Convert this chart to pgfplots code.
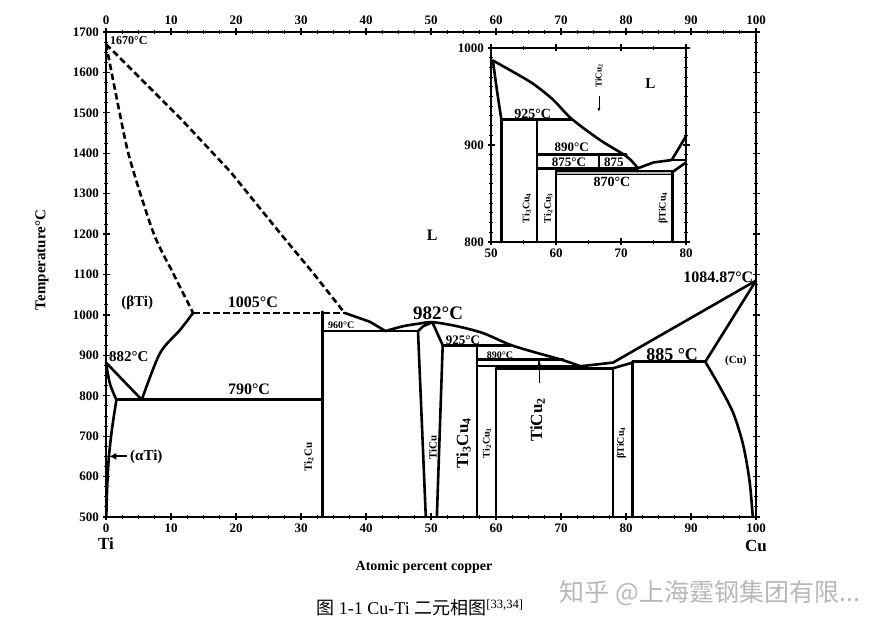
\documentclass[border=0pt]{standalone}
\usepackage{fontspec}
\setmainfont{Liberation Serif}
\newfontfamily\cjk{Noto Sans CJK SC}
\usepackage{pgfplots}
\pgfplotsset{compat=1.18}
\usetikzlibrary{arrows.meta}
\newcommand\fs[1]{\fontsize{#1}{#1}\selectfont\bfseries}
\begin{document}
\begin{tikzpicture}
\useasboundingbox (0pt,0pt) rectangle (889pt,628pt);
\pgfplotsset{
  pd/.style={black, line width=2.6pt, line join=round, line cap=round},
  pdd/.style={black, line width=2.6pt, dash pattern=on 6.5pt off 3.5pt},
  common/.style={scale only axis, anchor=south west,
    tick align=center, major tick length=7pt, minor tick length=4pt,
    every tick/.style={black, line width=1.2pt},
    minor tick style={line width=0.9pt},
    axis line style={line width=2pt},
    ticklabel style={font=\fs{13}},
    /pgf/number format/assume math mode=true,
    /pgf/number format/set thousands separator={},
    clip=false},
}
% ---------- top tick labels of main axis ----------
\begin{axis}[common, at={(106pt,111pt)}, width=650pt, height=485pt,
  xmin=0, xmax=100, ymin=500, ymax=1700,
  axis x line*=top, axis y line=none,
  xtick={0,10,...,100}, minor x tick num=3]
\addplot[draw=none] coordinates {(0,500)};
\end{axis}
% ---------- main axis ----------
\begin{axis}[common, at={(106pt,111pt)}, width=650pt, height=485pt,
  xmin=0, xmax=100, ymin=500, ymax=1700,
  xtick={0,10,...,100}, ytick={500,600,...,1700},
  minor x tick num=3, minor y tick num=3]
% dashed liquidus and solidus on the Ti side
\addplot[pdd] coordinates {(0,1670)(5,1590)(11.4,1487)(19.1,1355)(26.8,1202)(31.9,1103)(36.7,1005)};
\addplot[pdd, smooth] coordinates {(0,1670)(2.1,1500)(3.7,1384)(7.3,1203)(10.3,1104)(13.4,1005)};
\addplot[pdd] coordinates {(13.4,1005)(36.7,1005)};
% liquidus
\addplot[pd] coordinates {(36.7,1005)(40.6,983)(43,960)};
\addplot[pd, smooth] coordinates {(43,960)(45.7,972)(48,978)(50.2,982)(54,972)(58,955)(62.2,926)(66.3,906)(70.3,888)(73,873)};
\addplot[pd] coordinates {(73,873)(78,882)(100,1084.87)};
% Cu side
\addplot[pd] coordinates {(92.2,884)(100,1084.87)};
\addplot[pd, smooth] coordinates {(92.2,884)(94.5,820)(96.5,757)(98,680)(99,590)(99.5,500)};
\addplot[pd] coordinates {(81,884)(92.2,884)};
\addplot[pd] coordinates {(78,868)(81,882)};
\addplot[pd] coordinates {(78,500)(78,868)};
\addplot[pd] coordinates {(81,500)(81,884)};
% intermediate phases
\addplot[pd] coordinates {(60,868)(78,868)};
\addplot[pd] coordinates {(57.1,874)(73,874)};
\addplot[pd] coordinates {(60,500)(60,868)};
\addplot[pd] coordinates {(57.1,890)(70.3,890)};
\addplot[pd] coordinates {(66.6,890)(66.6,874)};
\addplot[pd] coordinates {(57.1,500)(57.1,925)};
\addplot[pd] coordinates {(51.8,925)(62.2,925)};
\addplot[pd] coordinates {(50.2,982)(51.8,925)(50.9,500)};
\addplot[pd] coordinates {(49.2,500)(48,960)(48.8,972)(50.2,982)};
\addplot[pd] coordinates {(33.3,960)(48,960)};
\addplot[pd] coordinates {(33.3,500)(33.3,1008)};
\addplot[pd] coordinates {(1.6,790)(33.3,790)};
% Ti side
\addplot[pd, smooth] coordinates {(5.5,790)(8.3,905)(11.4,963)(13.4,1005)};
\addplot[pd] coordinates {(0,882)(5.5,790)};
\addplot[pd, smooth] coordinates {(0,882)(0.6,830)(1.6,790)};
\addplot[pd, smooth] coordinates {(1.6,790)(0.9,715)(0.4,640)(0.15,560)(0.05,500)};
% arrows
\draw[-{Latex[length=7pt,width=7pt]}, line width=2.2pt] (axis cs:3.2,650) -- (axis cs:0.5,650);
\draw[-{Latex[length=5pt,width=4pt]}, line width=1pt] (axis cs:66.7,832) -- (axis cs:66.7,885);
% labels
\node[font=\fs{12}, anchor=west, inner sep=0pt] at (axis cs:0.6,1678) {1670°C};
\node[font=\fs{15}] at (axis cs:4.8,1030) {(βTi)};
\node[font=\fs{16}] at (axis cs:22.6,1032) {1005°C};
\node[font=\fs{15}] at (axis cs:3.5,896) {882°C};
\node[font=\fs{16}] at (axis cs:22,817) {790°C};
\node[font=\fs{15}] at (axis cs:6.2,648) {(αTi)};
\node[font=\fs{11}, rotate=90] at (axis cs:31.2,648) {Ti\textsubscript{2}Cu};
\node[font=\fs{10}] at (axis cs:36.2,975) {960°C};
\node[font=\fs{19}] at (axis cs:51.1,1005) {982°C};
\node[font=\fs{11}, rotate=90] at (axis cs:50.3,673) {TiCu};
\node[font=\fs{13}] at (axis cs:54.9,938) {925°C};
\node[font=\fs{10}] at (axis cs:60.6,901) {890°C};
\node[font=\fs{17}, rotate=90] at (axis cs:55,683) {Ti\textsubscript{3}Cu\textsubscript{4}};
\node[font=\fs{10}, rotate=90] at (axis cs:58.6,683) {Ti\textsubscript{2}Cu\textsubscript{3}};
\node[font=\fs{17}, rotate=90] at (axis cs:66.4,740) {TiCu\textsubscript{2}};
\node[font=\fs{10}, rotate=90] at (axis cs:79.3,683) {βTiCu\textsubscript{4}};
\node[font=\fs{18}] at (axis cs:87.1,903) {885 °C};
\node[font=\fs{11}] at (axis cs:96.9,886) {(Cu)};
\node[font=\fs{16}] at (axis cs:94.2,1094) {1084.87°C};
\node[font=\fs{16}] at (axis cs:50.2,1198) {L};
\node[font=\fs{17}, anchor=north, inner sep=0pt, yshift=-21pt] at (axis cs:0,500) {Ti};
\node[font=\fs{17}, anchor=north, inner sep=0pt, yshift=-23pt] at (axis cs:100,500) {Cu};
\end{axis}
% ---------- inset ----------
\begin{axis}[common, at={(491pt,386pt)}, width=195pt, height=194pt,
  xmin=50, xmax=80, ymin=800, ymax=1000,
  xtick={50,60,70,80}, ytick={800,900,1000},
  minor x tick num=1, minor y tick num=9,
  axis background/.style={fill=white},
  axis line style={line width=1.8pt}]
\addplot[pd, smooth] coordinates {(50.3,987)(53.5,975)(56.5,963)(59.5,947)(62.4,927)(66.8,905)(70.9,888)(72.6,876)};
\addplot[pd] coordinates {(72.6,876)(75,882)(77.8,884.5)(80,909)};
\addplot[pd] coordinates {(77.8,884.5)(80,884.5)};
\addplot[pd] coordinates {(77.9,872)(80,882)};
\addplot[pd, smooth] coordinates {(50.3,987)(50.9,957)(51.6,926)};
\addplot[pd] coordinates {(51.6,926)(51.6,800)};
\addplot[pd] coordinates {(51.6,926)(62.4,926)};
\addplot[pd] coordinates {(57.1,926)(57.1,800)};
\addplot[pd] coordinates {(57.1,890)(70.8,890)};
\addplot[pd] coordinates {(57.1,876)(72.6,876)};
\addplot[pd] coordinates {(66.6,890)(66.6,873)};
\addplot[black, line width=1.5pt, fill=gray!55] coordinates {(60,873)(77.9,873)(77.9,869.5)(60,869.5)} -- cycle;
\addplot[pd] coordinates {(60,873)(60,800)};
\addplot[pd] coordinates {(77.9,873)(77.9,800)};
\draw[-{Latex[length=4pt,width=3pt]}, line width=0.8pt] (axis cs:66.6,951) -- (axis cs:66.6,934);
\node[font=\fs{14}] at (axis cs:56.4,932) {925°C};
\node[font=\fs{13}] at (axis cs:62.4,898) {890°C};
\node[font=\fs{13}] at (axis cs:62,882) {875°C};
\node[font=\fs{13}] at (axis cs:68.9,882) {875};
\node[font=\fs{14}] at (axis cs:68.6,862) {870°C};
\node[font=\fs{15}] at (axis cs:74.5,963) {L};
\node[font=\fs{9}, rotate=90] at (axis cs:66.6,971) {TiCu\textsubscript{2}};
\node[font=\fs{10}, rotate=90] at (axis cs:55.5,835) {Ti\textsubscript{3}Cu\textsubscript{4}};
\node[font=\fs{10}, rotate=90] at (axis cs:58.8,835) {Ti\textsubscript{2}Cu\textsubscript{3}};
\node[font=\fs{10}, rotate=90] at (axis cs:76.5,835) {βTiCu\textsubscript{4}};
\end{axis}
% ---------- outer texts ----------
\node[font=\fs{14}] at (424pt,61pt) {Atomic percent copper};
\node[font=\fs{15}, rotate=90] at (42pt,368pt) {Temperature°C};
\node[font=\fontsize{18}{18}\selectfont] at (420pt,20pt) {{\cjk 图} 1-1 Cu-Ti {\cjk 二元相图}\textsuperscript{[33,34]}};
\node[font=\cjk\fontsize{25}{25}\selectfont, text=black!28] at (710pt,35pt) {知乎 @上海霆钢集团有限...};
\end{tikzpicture}
\end{document}
